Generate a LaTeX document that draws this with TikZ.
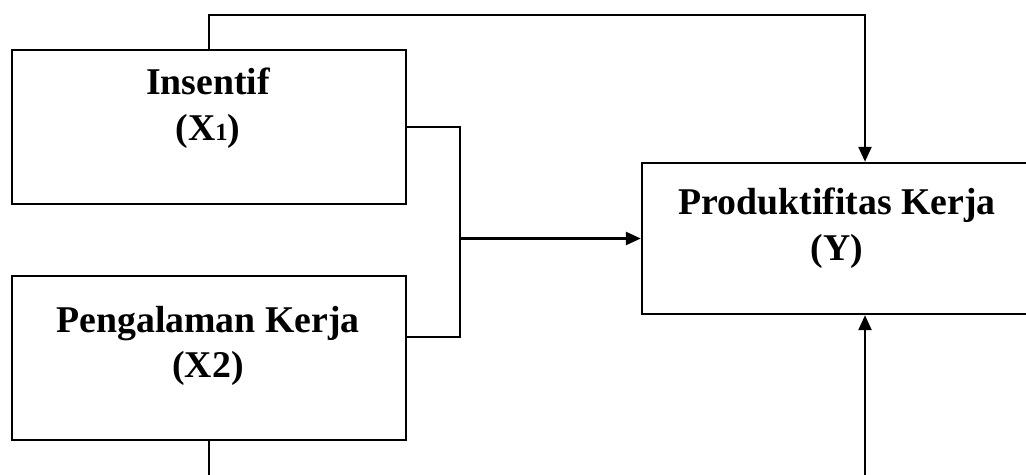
\documentclass[tikz,border=0pt]{standalone}
\usepackage{fontspec}
\setmainfont{Liberation Serif}
\usetikzlibrary{arrows.meta}
\begin{document}
\begin{tikzpicture}[x=0.02cm,y=-0.02cm,line width=1.4pt,
  >={Triangle[length=0.3cm,width=0.26cm]},
  varbox/.style={draw,rectangle,inner sep=0pt},
  vartext/.style={align=center,inner sep=0pt,font=\fontsize{21.5}{26}\selectfont\bfseries}]
  \useasboundingbox (0,0) rectangle (1026,475);
  % boxes
  \node[varbox,minimum width=7.88cm,minimum height=3.08cm] (insentif) at (209,127) {};
  \node[varbox,minimum width=7.88cm,minimum height=3.28cm] (pengalaman) at (209,358) {};
  \node[varbox,minimum width=8.92cm,minimum height=3.02cm] (produktif) at (865,238.5) {};
  \node[vartext] (insentiftext) at (208,108) {Insentif\\(X{\fontsize{14}{14}\selectfont 1})};
  \node[vartext] (pengalamantext) at (208,346) {Pengalaman Kerja\\(X2)};
  \node[vartext] (produktiftext) at (837,228) {Produktifitas Kerja\\(Y)};
  % connectors
  \coordinate (toprail) at (0,15);
  \coordinate (join) at (460,238.5);
  \coordinate (botleft) at (209,480);
  \coordinate (botright) at (865,480);
  \draw[->] (insentif.north) -- (insentif.north |- toprail) -| (produktif.north);
  \draw (insentif.east) -| (join) |- ([yshift=0.42cm]pengalaman.east);
  \draw[->] (join) -- (produktif.west);
  \draw (pengalaman.south) -- (botleft);
  \draw[->] (botright) -- (produktif.south);
\end{tikzpicture}
\end{document}
